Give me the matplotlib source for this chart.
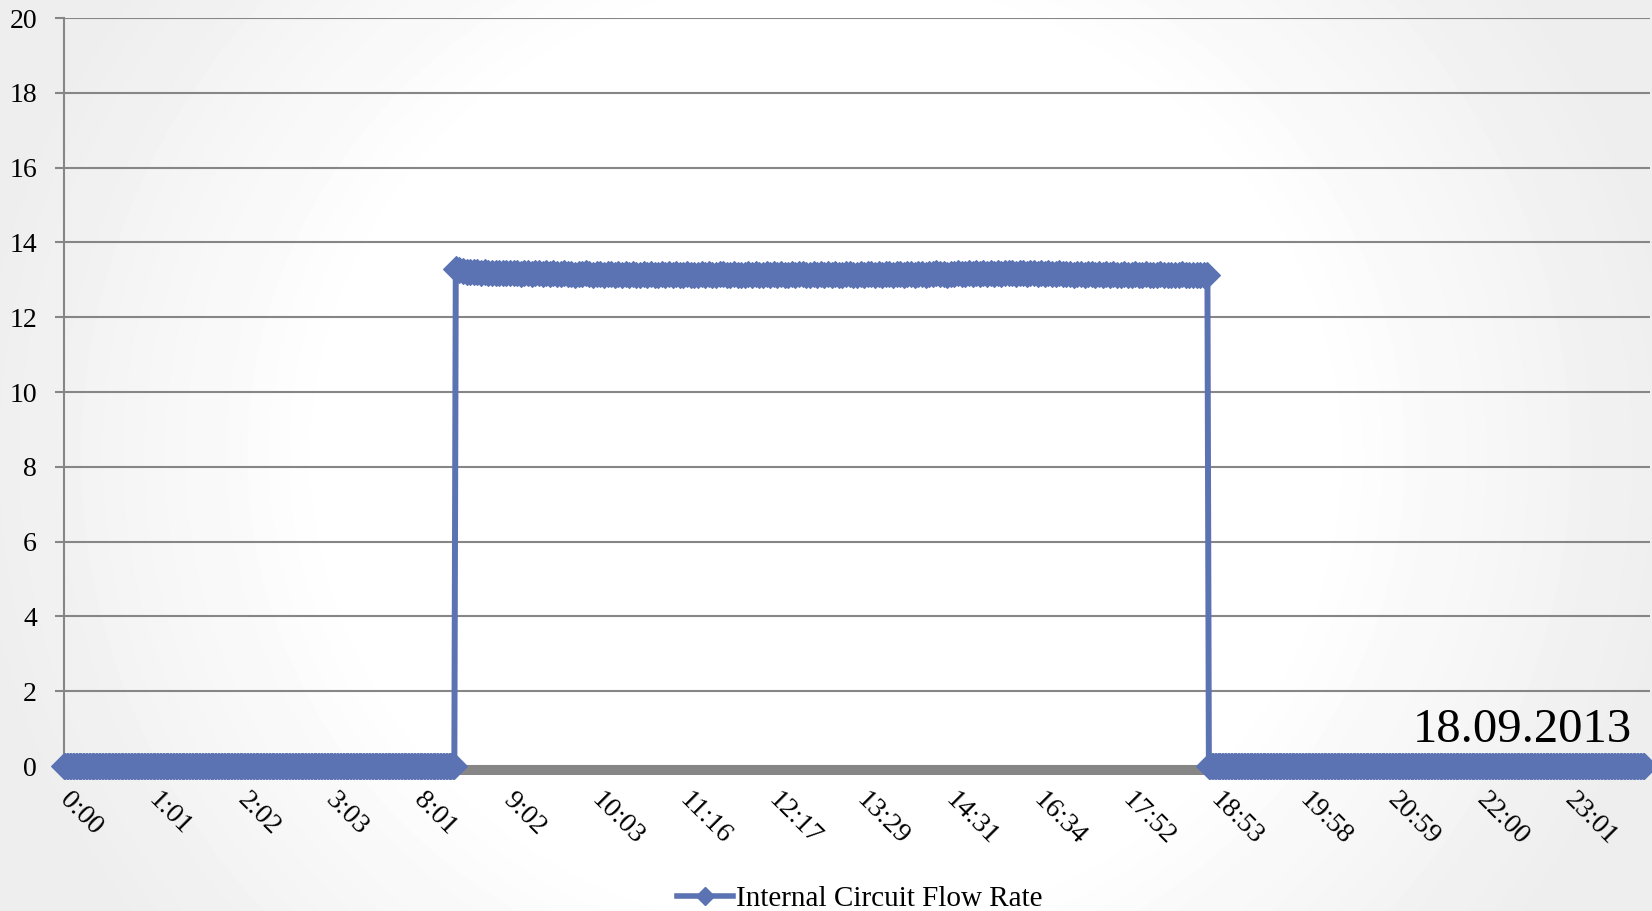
import numpy as np
import matplotlib
matplotlib.use("Agg")
import matplotlib.pyplot as plt
import matplotlib.transforms as mtransforms
from matplotlib.lines import Line2D

plt.rcParams['font.family'] = ['Liberation Serif', 'DejaVu Serif']

# ---------------- data ----------------
tick_labels = ["0:00", "1:01", "2:02", "3:03", "8:01", "9:02", "10:03", "11:16",
               "12:17", "13:29", "14:31", "16:34", "17:52", "18:53", "19:58",
               "20:59", "22:00", "23:01"]
samples_per_label = 61          # one sample per minute, label every 61 samples

flow_off_before = [0.0] * 270   # pump off (samples 0..269)
flow_on = [
    13.30, 13.27, 13.24, 13.22, 13.21, 13.20, 13.21, 13.19, 13.20, 13.19,
    13.18, 13.19, 13.18, 13.17, 13.19, 13.18, 13.17, 13.18, 13.16, 13.18,
    13.17, 13.16, 13.18, 13.17, 13.15, 13.17, 13.16, 13.17, 13.15, 13.16,
    13.17, 13.15, 13.16, 13.14, 13.16, 13.15, 13.17, 13.15, 13.14, 13.16,
    13.15, 13.13, 13.15, 13.16, 13.14, 13.15, 13.13, 13.15, 13.14, 13.16,
    13.14, 13.13, 13.15, 13.14, 13.16, 13.13, 13.14, 13.15, 13.13, 13.15,
    13.14, 13.16, 13.14, 13.13, 13.15, 13.14, 13.12, 13.14, 13.15, 13.13,
    13.15, 13.14, 13.13, 13.15, 13.16, 13.14, 13.13, 13.15, 13.14, 13.13,
    13.14, 13.16, 13.14, 13.15, 13.13, 13.14, 13.15, 13.13, 13.15, 13.14,
    13.16, 13.14, 13.13, 13.15, 13.14, 13.16, 13.15, 13.13, 13.14, 13.15,
    13.13, 13.15, 13.14, 13.16, 13.14, 13.15, 13.13, 13.14, 13.16, 13.15,
    13.14, 13.13, 13.15, 13.14, 13.16, 13.15, 13.13, 13.15, 13.14, 13.16,
    13.15, 13.14, 13.16, 13.15, 13.13, 13.15, 13.16, 13.14, 13.15, 13.16,
    13.14, 13.16, 13.15, 13.17, 13.15, 13.16, 13.14, 13.16, 13.15, 13.17,
    13.16, 13.15, 13.17, 13.16, 13.18, 13.16, 13.17, 13.15, 13.17, 13.16,
    13.18, 13.16, 13.17, 13.19, 13.17, 13.16, 13.18, 13.17, 13.16, 13.18,
    13.17, 13.15, 13.17, 13.16, 13.18, 13.16, 13.15, 13.17, 13.16, 13.15,
    13.16, 13.14, 13.16, 13.15, 13.13, 13.15, 13.16, 13.14, 13.15, 13.13,
    13.15, 13.14, 13.16, 13.13, 13.14, 13.15, 13.13, 13.14, 13.16, 13.14,
    13.13, 13.15, 13.14, 13.12, 13.14, 13.15, 13.13, 13.14, 13.12, 13.14,
    13.13, 13.15, 13.13, 13.12, 13.14, 13.13, 13.12, 13.14, 13.13,
]
on_last_sample = 788
flow_off_after = [0.0] * 301    # pump off again (samples 789..1089)

series_name = "Internal Circuit Flow Rate"
date_label = "18.09.2013"
y_ticks = [0, 2, 4, 6, 8, 10, 12, 14, 16, 18, 20]

# sample positions
x_before = np.arange(len(flow_off_before))
x_on = np.linspace(len(flow_off_before), on_last_sample, len(flow_on))
x_after = np.arange(on_last_sample + 1, on_last_sample + 1 + len(flow_off_after))
xs = np.concatenate([x_before, x_on, x_after])
ys = np.concatenate([flow_off_before, flow_on, flow_off_after])
tick_pos = np.arange(len(tick_labels)) * samples_per_label

# ---------------- figure ----------------
W, H = 1652, 911
fig = plt.figure(figsize=(W / 100, H / 100), dpi=100)

# soft gray vignette background
bg = fig.add_axes([0, 0, 1, 1], zorder=-10)
yy, xx = np.mgrid[0:H, 0:W]
dx = (xx - W / 2) / (W / 2)
dy = (yy - H / 2) / (H / 2)
d = np.sqrt(dx ** 2 + 0.35 * dy ** 2)
shade = np.clip((d - 0.6) / 0.45, 0, 1)
bg.imshow(1 - 0.07 * shade, cmap='gray', vmin=0, vmax=1, aspect='auto',
          interpolation='bilinear')
bg.axis('off')

ax = fig.add_axes([64 / W, 145 / H, 1586 / W, 748 / H])
ax.patch.set_alpha(0)

blue = '#5B73B3'
gray = '#868686'

ax.set_xlim(0, 1093)
ax.set_ylim(0, 20)
ax.set_yticks(y_ticks)
ax.yaxis.grid(True, color=gray, lw=1.5)
ax.set_axisbelow(True)

for s in ['top', 'right', 'bottom']:
    ax.spines[s].set_visible(False)
ax.spines['left'].set_color(gray)
ax.spines['left'].set_linewidth(1.5)

# thick gray category axis line
trans = mtransforms.offset_copy(ax.get_yaxis_transform(), fig=fig, x=0, y=-4,
                                units='dots')
ax.add_line(Line2D([0, 1], [0, 0], transform=trans, color=gray, lw=7.2,
                   solid_capstyle='butt', clip_on=False, zorder=2.5))

ax.plot(xs, ys, color=blue, lw=4.3, marker='D', ms=13, mew=0.8, mec=blue,
        mfc=blue, zorder=3, clip_on=False)

ax.tick_params(axis='y', length=6.5, width=1.5, color=gray, pad=13,
               labelsize=20, labelcolor='black')
ax.set_xticks(tick_pos)
ax.set_xticklabels(tick_labels)
ax.tick_params(axis='x', length=0, pad=22, labelsize=20)
for lbl in ax.get_xticklabels():
    lbl.set_rotation(-45)
    lbl.set_ha('left')
    lbl.set_va('center')
    lbl.set_rotation_mode('anchor')

fig.text(1632 / W, (H - 742) / H, date_label, ha='right', va='baseline',
         fontsize=35)

handle = Line2D([], [], color=blue, lw=4, marker='D', ms=9.5, mec=blue)
fig.legend([handle], [series_name], loc='center', bbox_to_anchor=(0.5206, 0.0135),
           frameon=False, fontsize=21, handlelength=1.93, handletextpad=0.1)

fig.savefig('out.png', dpi=100)
